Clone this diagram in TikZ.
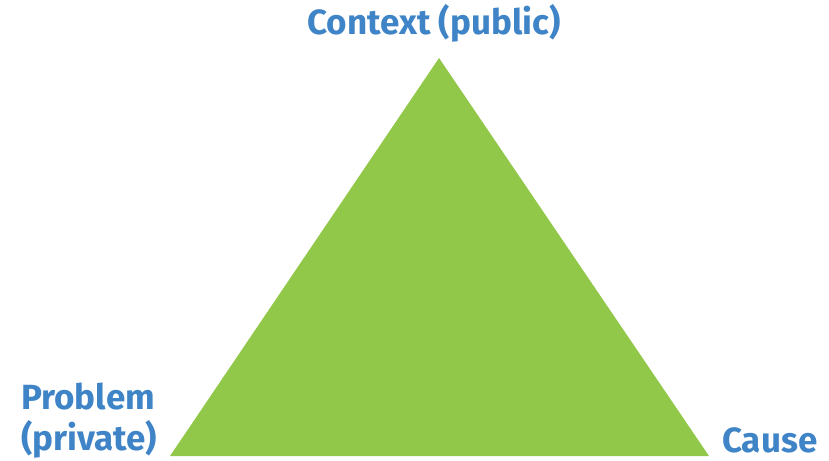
\documentclass[tikz,border=0pt]{standalone}
\usepackage{fontspec}
\setmainfont{Fira Sans}
\definecolor{lblblue}{RGB}{62,132,198}
\definecolor{trigreen}{RGB}{146,200,74}
\begin{document}
\begin{tikzpicture}[x=1pt,y=-1pt,
  lbl/.style={text=lblblue,font=\fontsize{35}{41}\selectfont\bfseries,inner sep=0pt}]
\useasboundingbox (0,0) rectangle (829,460);
\coordinate (apex) at (439,58);
\coordinate (bl) at (170,456);
\coordinate (br) at (709,456);
\fill[trigreen] (apex) -- (bl) -- (br) -- cycle;
\node[lbl,anchor=base] (ctx) at (434,35) {Context (public)};
\node[lbl,anchor=base west] (prob) at (21,409) {Problem};
\node[lbl,anchor=base west] (priv) at (21,450) {(private)};
\node[lbl,anchor=base west] (cause) at (722,452) {Cause};
\end{tikzpicture}
\end{document}
